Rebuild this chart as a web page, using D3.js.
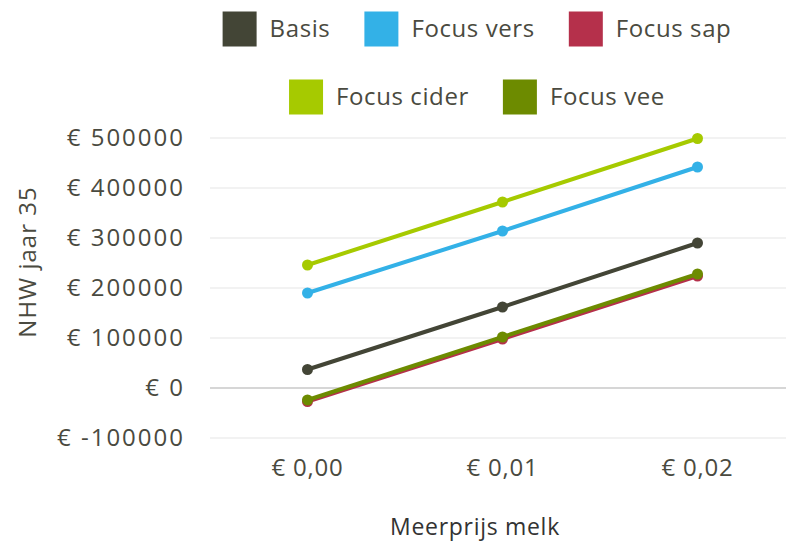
<!DOCTYPE html>
<html>
<head>
<meta charset="utf-8">
<script src="https://cdn.jsdelivr.net/npm/d3@7"></script>
<style>
  body { margin: 0; background: #fff; }
  text { font-family: "Open Sans", sans-serif; }
</style>
</head>
<body>
<div id="chart"></div>
<script>
// chart data
var categories = ["€ 0,00", "€ 0,01", "€ 0,02"];
var seriesNames = ["Basis", "Focus vers", "Focus sap", "Focus cider", "Focus vee"];
var basis = [37000, 162000, 290000];
var focusVers = [190000, 314000, 442000];
var focusSap = [-27000, 98000, 224000];
var focusCider = [246000, 372000, 499000];
var focusVee = [-24000, 102000, 228000];
var yTicks = [-100000, 0, 100000, 200000, 300000, 400000, 500000];

var seriesColors = ["#434536", "#33b1e7", "#b5304b", "#a6ca00", "#6d8b00"];
var seriesValues = [basis, focusVers, focusSap, focusCider, focusVee];

var width = 786, height = 545;
var plot = {left: 210, right: 795, top: 138, bottom: 438};

var svg = d3.select("#chart").append("svg")
  .attr("width", width)
  .attr("height", height);

var x = d3.scaleBand()
  .domain(categories)
  .range([plot.left, plot.right]);

var y = d3.scaleLinear()
  .domain([-100000, 500000])
  .range([plot.bottom, plot.top]);

// gridlines
svg.append("g").selectAll("line")
  .data(yTicks)
  .enter()
  .append("line")
  .attr("x1", plot.left)
  .attr("x2", width)
  .attr("y1", function(d){ return y(d); })
  .attr("y2", function(d){ return y(d); })
  .attr("stroke", function(d){ return d === 0 ? "#c8c8c8" : "#e6e6e6"; })
  .attr("stroke-width", function(d){ return d === 0 ? 1.5 : 1.2; });

// y axis labels
svg.append("g").selectAll("text")
  .data(yTicks)
  .enter()
  .append("text")
  .attr("x", 185)
  .attr("y", function(d){ return y(d); })
  .attr("dy", "0.35em")
  .attr("text-anchor", "end")
  .attr("font-size", 24)
  .attr("letter-spacing", 2)
  .attr("fill", "#4a4a40")
  .text(function(d){ return "€ " + d; });

// x axis labels
svg.append("g").selectAll("text")
  .data(categories)
  .enter()
  .append("text")
  .attr("x", function(d){ return x(d) + x.bandwidth() / 2; })
  .attr("y", 476)
  .attr("text-anchor", "middle")
  .attr("font-size", 24)
  .attr("letter-spacing", 0.8)
  .attr("fill", "#4a4a40")
  .text(function(d){ return d; });

// axis titles
svg.append("text")
  .attr("x", 475)
  .attr("y", 535)
  .attr("text-anchor", "middle")
  .attr("font-size", 23)
  .attr("letter-spacing", 0.7)
  .attr("fill", "#333333")
  .text("Meerprijs melk");

svg.append("text")
  .attr("transform", "translate(36,262) rotate(-90)")
  .attr("text-anchor", "middle")
  .attr("font-size", 24)
  .attr("letter-spacing", 1)
  .attr("fill", "#4a4a40")
  .text("NHW jaar 35");

// lines and markers
var line = d3.line()
  .x(function(d, i){ return x(categories[i]) + x.bandwidth() / 2; })
  .y(function(d){ return y(d); });

seriesValues.forEach(function(vals, s){
  var g = svg.append("g");
  g.append("path")
    .attr("d", line(vals))
    .attr("fill", "none")
    .attr("stroke", seriesColors[s])
    .attr("stroke-width", 4);
  g.selectAll("circle")
    .data(vals)
    .enter()
    .append("circle")
    .attr("cx", function(d, i){ return x(categories[i]) + x.bandwidth() / 2; })
    .attr("cy", function(d){ return y(d); })
    .attr("r", 5.5)
    .attr("fill", seriesColors[s]);
});

// legend
var legendRows = [[0, 1, 2], [3, 4]];
var legendY = [29, 97];
legendRows.forEach(function(row, r){
  var lg = svg.append("g");
  var items = lg.selectAll("g")
    .data(row)
    .enter()
    .append("g");
  items.append("rect")
    .attr("width", 34)
    .attr("height", 35)
    .attr("y", legendY[r] - 17.5)
    .attr("fill", function(d){ return seriesColors[d]; });
  items.append("text")
    .attr("x", 47)
    .attr("y", legendY[r])
    .attr("dy", "0.35em")
    .attr("font-size", 24)
    .attr("letter-spacing", 0.6)
    .attr("fill", "#4a4a40")
    .text(function(d){ return seriesNames[d]; });
  // place items one after another, centered
  var offsets = [], pos = 0;
  items.each(function(){
    offsets.push(pos);
    pos += this.getBBox().width + 34;
  });
  pos -= 34;
  var start = 477 - pos / 2;
  items.attr("transform", function(d, i){ return "translate(" + (start + offsets[i]) + ",0)"; });
});
</script>
</body>
</html>
